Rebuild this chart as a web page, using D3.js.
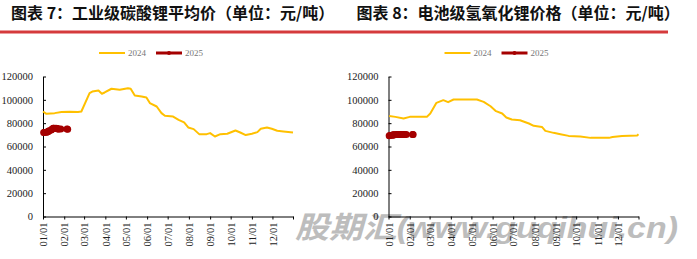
<!DOCTYPE html>
<html>
<head>
<meta charset="utf-8">
<script src="https://cdn.jsdelivr.net/npm/d3@7"></script>
<style>
  body { margin: 0; background: #fff; }
  svg { display: block; }
</style>
</head>
<body>
<script>
// two lithium price panels, 2024 vs 2025

var width = 697;
var height = 259;

var titles = ['图表 7：工业级碳酸锂平均价（单位：元/吨）', '图表 8：电池级氢氧化锂价格（单位：元/吨）'];
var seriesNames = ['2024', '2025'];
var monthLabels = ['01/01', '02/01', '03/01', '04/01', '05/01', '06/01',
  '07/01', '08/01', '09/01', '10/01', '11/01', '12/01'];
var yTicks = [0, 20000, 40000, 60000, 80000, 100000, 120000];

// 工业级碳酸锂 2024
var carbonate2024 = [
  ['2024-01-01', 90000], ['2024-01-06', 88000], ['2024-01-18', 88600], ['2024-01-28', 89500],
  ['2024-02-09', 89800], ['2024-02-21', 89500], ['2024-02-26', 90000], ['2024-03-09', 105800],
  ['2024-03-13', 107100], ['2024-03-22', 108000], ['2024-03-27', 105200], ['2024-03-31', 106300],
  ['2024-04-10', 109500], ['2024-04-22', 108600], ['2024-05-04', 110000], ['2024-05-08', 109500],
  ['2024-05-14', 103700], ['2024-05-24', 102900], ['2024-05-31', 102000], ['2024-06-05', 97200],
  ['2024-06-15', 94300], ['2024-06-22', 88600], ['2024-06-27', 86300], ['2024-07-09', 85700],
  ['2024-07-17', 82900], ['2024-07-25', 80600], ['2024-07-31', 76300], ['2024-08-08', 74900],
  ['2024-08-16', 70600], ['2024-08-27', 70600], ['2024-09-01', 71500], ['2024-09-08', 68600],
  ['2024-09-16', 70600], ['2024-09-26', 70900], ['2024-10-08', 73700], ['2024-10-15', 72000],
  ['2024-10-23', 69800], ['2024-11-01', 70900], ['2024-11-09', 72300], ['2024-11-14', 75200],
  ['2024-11-23', 76300], ['2024-11-30', 75200], ['2024-12-08', 73500], ['2024-12-17', 72900],
  ['2024-12-31', 72000]
];
var carbonate2025 = [
  ['2025-01-02', 72000], ['2025-01-03', 72000], ['2025-01-06', 72300], ['2025-01-07', 72500],
  ['2025-01-08', 72700], ['2025-01-09', 73000], ['2025-01-10', 73500], ['2025-01-13', 74200],
  ['2025-01-14', 74800], ['2025-01-15', 75300], ['2025-01-16', 75600], ['2025-01-17', 75700],
  ['2025-01-20', 75700], ['2025-01-21', 75500], ['2025-01-22', 75300], ['2025-01-23', 75100],
  ['2025-01-24', 75000], ['2025-01-27', 74900], ['2025-02-05', 74900], ['2025-02-06', 74800]
];

// 电池级氢氧化锂 2024
var hydroxide2024 = [
  ['2024-01-02', 86200], ['2024-01-11', 85400], ['2024-01-23', 84000], ['2024-02-01', 85400],
  ['2024-02-26', 85400], ['2024-03-02', 88300], ['2024-03-11', 97400], ['2024-03-21', 99700],
  ['2024-03-28', 98000], ['2024-04-05', 100300], ['2024-05-09', 100300], ['2024-05-19', 98200],
  ['2024-05-29', 94500], ['2024-06-06', 90300], ['2024-06-15', 88300], ['2024-06-21', 84900],
  ['2024-06-29', 83100], ['2024-07-11', 82500], ['2024-07-24', 79700], ['2024-07-31', 77700],
  ['2024-08-12', 76800], ['2024-08-17', 73400], ['2024-08-29', 71700], ['2024-09-08', 70500],
  ['2024-09-20', 69100], ['2024-10-07', 68600], ['2024-10-22', 67400], ['2024-11-18', 67400],
  ['2024-11-23', 68200], ['2024-12-07', 69100], ['2024-12-29', 69500], ['2024-12-31', 70500]
];
var hydroxide2025 = [
  ['2025-01-02', 69300], ['2025-01-03', 69500], ['2025-01-06', 69600], ['2025-01-07', 69800],
  ['2025-01-08', 69900], ['2025-01-09', 70000], ['2025-01-10', 70100], ['2025-01-13', 70200],
  ['2025-01-14', 70200], ['2025-01-15', 70300], ['2025-01-16', 70300], ['2025-01-17', 70300],
  ['2025-01-20', 70300], ['2025-01-21', 70300], ['2025-01-22', 70300], ['2025-01-23', 70300],
  ['2025-01-24', 70300], ['2025-01-27', 70300], ['2025-02-05', 70300], ['2025-02-06', 70300]
];

var yellow = '#ffc000';
var darkRed = '#a50000';
var serif = '"Liberation Serif", "Times New Roman", serif';

var parse = d3.timeParse('%Y-%m-%d');
// 2025 is drawn on the 2024 calendar
var toPoints = function(rows, shift) {
  return rows.map(function(r) {
    return { date: d3.timeYear.offset(parse(r[0]), shift), value: r[1] };
  });
};

var svg = d3.select('body').append('svg')
  .attr('width', width)
  .attr('height', height);

svg.append('rect').attr('width', width).attr('height', height).attr('fill', '#fff');

// watermark sits under the charts
svg.append('text')
  .attr('x', 295)
  .attr('y', 238)
  .attr('textLength', 383)
  .attr('lengthAdjust', 'spacingAndGlyphs')
  .style('font-family', '"Liberation Sans", "Noto Sans CJK SC", sans-serif')
  .style('font-weight', 'bold')
  .style('font-style', 'italic')
  .style('font-size', '30px')
  .attr('fill', '#bdbdbd')
  .text('股期汇(www.guqihui.cn)');

// red rule under the titles
svg.append('rect')
  .attr('x', 0).attr('y', 30.5)
  .attr('width', 668).attr('height', 3)
  .attr('fill', '#d53a3c');

var drawPanel = function(left, title, s2024, s2025) {
  var g = svg.append('g');

  g.append('text')
    .attr('x', left - 32)
    .attr('y', 19)
    .style('font-family', '"Noto Sans CJK SC", sans-serif')
    .style('font-weight', 'bold')
    .style('font-size', '16px')
    .attr('fill', '#111')
    .text(title);

  var x = d3.scaleTime()
    .domain([parse('2024-01-01'), parse('2024-12-31')])
    .range([left, left + 250]);
  var y = d3.scaleLinear()
    .domain([0, 120000])
    .range([216.5, 76.5]);

  var tickDates = monthLabels.map(function(m, i) { return new Date(2024, i, 1); });
  tickDates.push(parse('2024-12-31'));

  var xAxis = g.append('g')
    .attr('transform', 'translate(0,' + y(0) + ')')
    .call(d3.axisBottom(x)
      .tickValues(tickDates)
      .tickSizeInner(3)
      .tickSizeOuter(0)
      .tickFormat(function(d, i) { return monthLabels[i] || ''; }));
  xAxis.selectAll('text')
    .attr('transform', 'rotate(-90)')
    .attr('text-anchor', 'end')
    .attr('x', -6)
    .attr('y', 0)
    .attr('dy', '0.35em');

  var yAxis = g.append('g')
    .attr('transform', 'translate(' + left + ',0)')
    .call(d3.axisLeft(y)
      .tickValues(yTicks)
      .tickSizeInner(-3)
      .tickSizeOuter(0)
      .tickPadding(10)
      .tickFormat(d3.format('d')));

  [xAxis, yAxis].forEach(function(a) {
    a.selectAll('path, line').attr('stroke', '#000');
    a.selectAll('text')
      .style('font-family', serif)
      .style('font-size', '10.5px')
      .attr('fill', '#222');
  });

  var line = d3.line()
    .x(function(d) { return x(d.date); })
    .y(function(d) { return y(d.value); });

  g.append('path')
    .datum(s2024)
    .attr('fill', 'none')
    .attr('stroke', yellow)
    .attr('stroke-width', 2)
    .attr('stroke-linejoin', 'round')
    .attr('d', line);

  g.append('path')
    .datum(s2025)
    .attr('fill', 'none')
    .attr('stroke', darkRed)
    .attr('stroke-width', 3)
    .attr('d', line);

  g.selectAll('circle.pt')
    .data(s2025)
    .enter().append('circle')
    .attr('class', 'pt')
    .attr('cx', function(d) { return x(d.date); })
    .attr('cy', function(d) { return y(d.value); })
    .attr('r', 3.5)
    .attr('fill', darkRed);

  // legend
  var lg = g.append('g').attr('transform', 'translate(' + (left + 56) + ',53)');
  lg.append('line').attr('x1', 0).attr('x2', 26)
    .attr('stroke', yellow).attr('stroke-width', 2);
  lg.append('line').attr('x1', 57).attr('x2', 83)
    .attr('stroke', darkRed).attr('stroke-width', 3);
  lg.append('circle').attr('cx', 70).attr('r', 2).attr('fill', darkRed);
  lg.selectAll('text')
    .data(seriesNames)
    .enter().append('text')
    .attr('x', function(d, i) { return i === 0 ? 29 : 86; })
    .attr('dy', '0.35em')
    .style('font-family', serif)
    .style('font-size', '9px')
    .attr('fill', '#777')
    .text(function(d) { return d; });
};

drawPanel(43, titles[0], toPoints(carbonate2024, 0), toPoints(carbonate2025, -1));
drawPanel(388.5, titles[1], toPoints(hydroxide2024, 0), toPoints(hydroxide2025, -1));
</script>
</body>
</html>
